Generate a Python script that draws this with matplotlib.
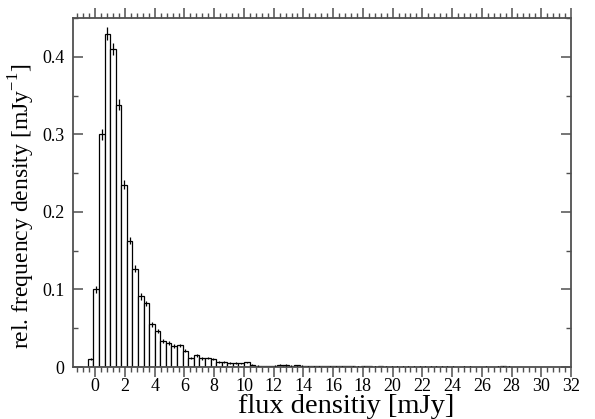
import matplotlib
matplotlib.use("Agg")
import matplotlib.pyplot as plt
from matplotlib.ticker import MultipleLocator, FuncFormatter

plt.rcParams['font.family'] = ['Liberation Serif', 'DejaVu Serif']
plt.rcParams['mathtext.fontset'] = 'custom'
plt.rcParams['mathtext.rm'] = 'Liberation Serif'

bin_start = -0.5
bin_width = 0.375
freq = [0.010, 0.100, 0.300, 0.430, 0.410, 0.338, 0.235, 0.163, 0.127, 0.091,
        0.082, 0.055, 0.046, 0.034, 0.031, 0.027, 0.028, 0.021, 0.012, 0.015,
        0.011, 0.012, 0.010, 0.007, 0.006, 0.005, 0.0055, 0.0047, 0.006, 0.003,
        0.0018, 0.0013, 0.0013, 0.0017, 0.003, 0.0026, 0.0017, 0.002, 0.0017, 0.001,
        0.0009, 0.0009, 0.0013, 0.0008, 0.0008, 0.0008, 0.0013, 0.0007, 0.0006, 0.0007,
        0.0012, 0.0006, 0.0012, 0.0005, 0.0005, 0.0006, 0.0005, 0.0004, 0.0005, 0.0005,
        0.0004, 0.0004, 0.0005, 0.0004, 0.0004, 0.0004, 0.0003, 0.0004, 0.0004, 0.0003,
        0.0003, 0.0004, 0.0003, 0.0004, 0.0009, 0.0004, 0.0003, 0.0003, 0.0003, 0.0003,
        0.0003, 0.0002, 0.0003, 0.0002, 0.0002, 0.0002]
err = [0.0013, 0.004, 0.007, 0.0086, 0.008, 0.007, 0.006, 0.005, 0.0045, 0.004,
       0.0037, 0.003, 0.0028, 0.0025, 0.0024, 0.0022, 0.0022, 0.002, 0.0015, 0.0017,
       0.0015, 0.0015, 0.0014, 0.0012, 0.0011, 0.001, 0.001, 0.001, 0.001, 0.0008,
       0.0006, 0.0005, 0.0005, 0.0006, 0.0008, 0.0007, 0.0006, 0.0006, 0.0006, 0.0004]
err = err + [0.0003] * (len(freq) - len(err))

x_ticks = list(range(0, 33, 2))
y_ticks = [0, 0.1, 0.2, 0.3, 0.4]

fig = plt.figure(figsize=(5.95, 4.19), dpi=100)
ax = fig.add_axes([73/595, 1-367/419, (571-73)/595, (367-18)/419])

lefts = [bin_start + i * bin_width for i in range(len(freq))]
centers = [l + bin_width / 2 for l in lefts]
ax.bar(lefts, freq, width=bin_width, align='edge', facecolor='white',
       edgecolor='black', linewidth=0.9, zorder=2)
ax.errorbar(centers, freq, yerr=err, fmt='none', ecolor='black',
            elinewidth=0.9, capsize=0, zorder=3)

ax.set_xlim(-1.5, 32)
ax.set_ylim(0, 0.45)
ax.xaxis.set_minor_locator(MultipleLocator(0.4))
ax.yaxis.set_minor_locator(MultipleLocator(0.05))
ax.set_xticks(x_ticks)
ax.set_yticks(y_ticks)
ax.yaxis.set_major_formatter(FuncFormatter(lambda v, p: '0' if abs(v) < 1e-9 else f'{v:.1f}'))

spine_col = '#505050'
for s in ax.spines.values():
    s.set_color(spine_col)
    s.set_linewidth(1.3)

ax.tick_params(axis='x', which='both', direction='out', top=True, bottom=True,
               color=spine_col, labelsize=13, pad=1)
ax.tick_params(axis='x', which='major', length=7, width=1.1)
ax.tick_params(axis='x', which='minor', length=3.8, width=1.0)
ax.tick_params(axis='y', which='both', direction='in', left=True, right=True,
               color=spine_col, labelsize=13, pad=6)
ax.tick_params(axis='y', which='major', length=7, width=1.1)
ax.tick_params(axis='y', which='minor', length=3.8, width=1.0)

ax.set_xlabel('flux densitiy [mJy]', fontsize=20.5)
ax.xaxis.label.set_va('baseline')
ax.xaxis.set_label_coords((346 - 73) / 498, -(413 - 367) / 349)
ax.set_ylabel('rel. frequency density [mJy$^{-1}$]', fontsize=17)
ax.yaxis.label.set_va('center')
ax.yaxis.set_label_coords((22 - 73) / 498, (367 - 206) / 349)

fig.savefig('out.png', dpi=100)
